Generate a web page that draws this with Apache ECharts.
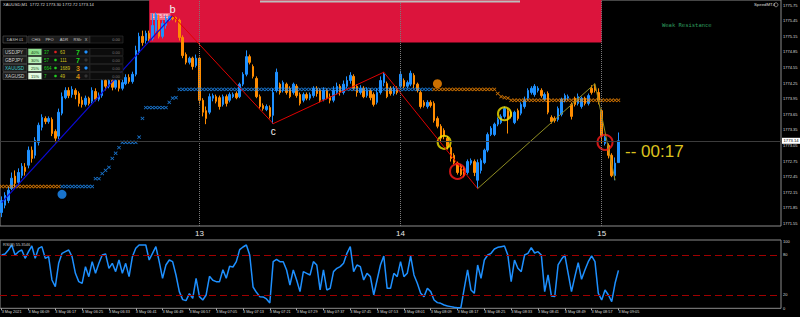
<!DOCTYPE html>
<html>
<head>
<meta charset="utf-8">
<script src="https://cdn.jsdelivr.net/npm/echarts@6/dist/echarts.min.js"></script>
<style>
  html, body { margin: 0; background: #000; }
  #chart { width: 800px; height: 317px; }
</style>
</head>
<body>
<div id="chart"></div>
<script>
// time slots (M1), 06:01 onwards; the chart window is wider than the data
const times = [];
for (let i = 0; i < 233; i++) {
  const m = 6 * 60 + 1 + i;
  times.push(String(Math.floor(m / 60)).padStart(2, "0") + ":" + String(m % 60).padStart(2, "0"));
}
const hourLabels = { "07:00": "13", "08:00": "14", "09:00": "15" };

// [open, close, low, high]
const candles = [
  [1771.76,1771.99,1771.67,1772.07],[1771.90,1772.09,1771.84,1772.15],[1771.99,1772.19,1771.94,1772.26],[1772.22,1772.42,1772.19,1772.53],[1772.46,1772.32,1772.24,1772.57],
  [1772.34,1772.53,1772.28,1772.61],[1772.47,1772.65,1772.42,1772.71],[1772.63,1772.55,1772.47,1772.71],[1772.67,1772.96,1772.61,1773.03],[1772.96,1772.80,1772.72,1773.03],
  [1772.86,1773.15,1772.80,1773.21],[1773.11,1773.44,1773.05,1773.49],[1773.40,1773.59,1773.34,1773.65],[1773.57,1773.51,1773.46,1773.61],[1773.51,1773.57,1773.47,1773.61],
  [1773.55,1773.28,1773.23,1773.59],[1773.32,1773.19,1773.11,1773.36],[1773.23,1773.69,1773.17,1773.76],[1773.67,1773.99,1773.63,1774.07],[1773.97,1774.11,1773.94,1774.17],
  [1774.11,1774.01,1773.96,1774.17],[1774.03,1774.13,1773.97,1774.19],[1774.11,1774.03,1773.94,1774.15],[1774.05,1773.86,1773.80,1774.09],[1773.92,1773.84,1773.78,1773.99],
  [1773.84,1773.96,1773.80,1774.01],[1773.96,1773.86,1773.82,1773.99],[1773.90,1774.11,1773.86,1774.17],[1774.09,1773.94,1773.90,1774.15],[1773.94,1774.01,1773.90,1774.07],
  [1774.01,1774.30,1773.97,1774.36],[1774.30,1774.19,1774.11,1774.34],[1774.19,1774.30,1774.15,1774.34],[1774.30,1774.17,1774.11,1774.36],[1774.17,1774.30,1774.13,1774.36],
  [1774.30,1774.15,1774.09,1774.32],[1774.15,1774.26,1774.11,1774.32],[1774.24,1774.36,1774.21,1774.42],[1774.36,1774.28,1774.24,1774.42],[1774.28,1774.42,1774.24,1774.47],
  [1774.42,1774.88,1774.38,1774.97],[1774.84,1775.15,1774.80,1775.22],[1775.15,1775.03,1774.97,1775.26],[1775.07,1775.21,1775.01,1775.26],[1775.21,1775.11,1775.05,1775.26],
  [1775.11,1775.36,1775.07,1775.59],[1775.26,1775.57,1775.22,1775.61],[1775.46,1775.15,1775.11,1775.57],[1775.15,1775.40,1775.11,1775.46],[1775.36,1775.49,1775.30,1775.55],
  [1775.47,1775.53,1775.44,1775.55],[1775.53,1775.49,1775.46,1775.55],[1775.51,1775.46,1775.42,1775.53],[1775.46,1775.13,1775.07,1775.49],[1775.13,1774.78,1774.73,1775.17],
  [1774.80,1774.65,1774.61,1774.84],[1774.65,1774.73,1774.61,1774.76],[1774.73,1774.57,1774.51,1774.76],[1774.59,1774.73,1774.55,1774.80],[1774.73,1773.92,1773.84,1774.76],
  [1773.92,1773.69,1773.61,1773.96],[1773.72,1773.57,1773.46,1773.80],[1773.69,1773.99,1773.65,1774.05],[1773.96,1774.01,1773.90,1774.05],[1773.99,1773.90,1773.86,1774.03],
  [1773.97,1773.80,1773.74,1774.01],[1773.84,1773.99,1773.80,1774.03],[1773.99,1773.86,1773.80,1774.03],[1773.92,1774.03,1773.88,1774.07],[1773.99,1774.03,1773.96,1774.07],
  [1774.05,1773.97,1773.94,1774.09],[1773.99,1774.23,1773.96,1774.26],[1774.23,1774.42,1774.19,1774.46],[1774.42,1774.76,1774.38,1774.88],[1774.76,1774.65,1774.61,1774.80],
  [1774.57,1774.38,1774.34,1774.61],[1774.34,1773.99,1773.96,1774.38],[1773.99,1773.80,1773.76,1774.03],[1773.82,1773.76,1773.72,1773.86],[1773.74,1773.80,1773.71,1773.84],
  [1773.78,1773.61,1773.57,1773.82],[1773.63,1774.07,1773.47,1774.15],[1774.11,1774.46,1774.07,1774.53],[1774.23,1774.07,1774.03,1774.26],[1774.11,1774.26,1774.07,1774.30],
  [1774.23,1774.07,1774.03,1774.26],[1774.15,1773.99,1773.96,1774.19],[1774.07,1774.23,1774.03,1774.26],[1774.19,1774.01,1773.97,1774.23],[1774.03,1773.86,1773.82,1774.07],
  [1773.92,1774.03,1773.88,1774.07],[1774.03,1773.96,1773.92,1774.07],[1773.96,1774.03,1773.92,1774.07],[1774.01,1774.15,1773.97,1774.19],[1774.15,1774.05,1773.99,1774.19],
  [1774.11,1773.92,1773.88,1774.15],[1773.94,1774.11,1773.90,1774.17],[1774.11,1773.97,1773.94,1774.15],[1773.99,1773.92,1773.86,1774.05],[1773.92,1774.11,1773.88,1774.19],
  [1774.07,1774.19,1774.03,1774.26],[1774.19,1774.07,1774.01,1774.23],[1774.07,1774.23,1774.03,1774.30],[1774.19,1774.30,1774.15,1774.38],[1774.30,1774.40,1774.24,1774.46],
  [1774.38,1774.15,1774.11,1774.42],[1774.19,1774.07,1773.99,1774.23],[1774.07,1774.15,1774.03,1774.21],[1774.15,1773.99,1773.96,1774.19],[1774.01,1774.11,1773.97,1774.17],
  [1774.11,1773.97,1773.92,1774.15],[1774.03,1773.84,1773.80,1774.07],[1773.88,1774.07,1773.84,1774.15],[1774.07,1774.30,1774.03,1774.38],[1774.26,1774.42,1774.19,1774.46],
  [1774.24,1773.99,1773.96,1774.28],[1774.15,1774.05,1774.01,1774.19],[1774.05,1774.15,1774.01,1774.19],[1774.15,1774.07,1774.03,1774.19],[1774.19,1774.42,1774.15,1774.49],
  [1774.30,1774.19,1774.15,1774.34],[1774.19,1774.26,1774.15,1774.30],[1774.23,1774.44,1774.19,1774.49],[1774.40,1774.23,1774.15,1774.44],[1774.23,1774.11,1774.07,1774.26],
  [1774.07,1773.80,1773.76,1774.11],[1773.88,1773.82,1773.78,1773.92],[1773.80,1773.88,1773.76,1773.92],[1773.88,1773.82,1773.78,1773.92],[1773.86,1773.53,1773.49,1773.90],
  [1773.57,1773.42,1773.38,1773.61],[1773.42,1773.19,1773.13,1773.46],[1773.34,1773.23,1773.17,1773.38],[1773.19,1773.03,1772.97,1773.23],[1773.01,1772.80,1772.74,1773.05],
  [1772.86,1772.72,1772.69,1772.90],[1772.71,1772.53,1772.49,1772.74],[1772.65,1772.49,1772.46,1772.69],[1772.61,1772.47,1772.44,1772.65],[1772.53,1772.74,1772.49,1772.78],
  [1772.71,1772.76,1772.67,1772.80],[1772.74,1772.53,1772.46,1772.78],[1772.38,1772.72,1772.22,1772.78],[1772.57,1772.76,1772.51,1772.80],[1772.72,1772.96,1772.69,1772.99],
  [1772.96,1773.26,1772.92,1773.30],[1773.26,1773.38,1773.23,1773.42],[1773.26,1773.46,1773.23,1773.49],[1773.46,1773.55,1773.42,1773.59],[1773.49,1773.61,1773.46,1773.65],
  [1773.61,1773.76,1773.57,1773.80],[1773.72,1773.57,1773.28,1773.76],[1773.69,1773.61,1773.57,1773.72],[1773.49,1773.69,1773.46,1773.72],[1773.72,1773.57,1773.53,1773.76],
  [1773.67,1773.84,1773.63,1773.88],[1773.80,1773.92,1773.76,1773.99],[1773.96,1774.11,1773.92,1774.15],[1774.07,1774.15,1774.03,1774.19],[1774.03,1774.19,1773.99,1774.23],
  [1774.11,1774.15,1774.07,1774.19],[1774.11,1774.01,1773.97,1774.15],[1773.94,1774.03,1773.90,1774.07],[1774.05,1773.69,1773.65,1774.09],[1773.59,1773.51,1773.47,1773.63],
  [1773.57,1773.53,1773.49,1773.61],[1773.55,1773.76,1773.51,1773.80],[1773.65,1773.94,1773.61,1773.97],[1773.92,1774.01,1773.88,1774.05],[1773.96,1773.99,1773.92,1774.03],
  [1773.84,1773.61,1773.55,1773.88],[1773.96,1773.84,1773.80,1773.99],[1773.86,1773.99,1773.82,1774.05],[1773.80,1773.96,1773.76,1773.99],[1773.96,1773.86,1773.82,1773.99],
  [1773.86,1774.01,1773.82,1774.05],[1774.15,1774.07,1774.03,1774.21],[1774.19,1774.11,1774.07,1774.24],[1774.07,1773.92,1773.84,1774.15],[1773.72,1773.23,1773.09,1773.76],
  [1773.09,1773.21,1773.05,1773.24],[1773.05,1772.86,1772.80,1773.09],[1772.86,1772.47,1772.44,1772.90],[1772.47,1772.71,1772.38,1772.82],[1772.72,1773.14,1772.72,1773.30]
];

const rsi = [
  80, 81.5, 87.5, 95, 80, 85, 87.5, 75, 85, 93.5,
  75, 90, 92.5, 75, 77.5, 42.5, 32.5, 67.5, 82.5, 85,
  87.5, 77.5, 52.5, 40, 37.5, 62.5, 47.5, 70, 52.5, 67.5,
  80, 81.5, 60, 67.5, 55, 72.5, 52.5, 67.5, 47.5, 77.5,
  90, 95, 95, 95, 72.5, 82.5, 92.5, 70, 45, 65,
  72.5, 70, 50, 25, 13, 11.5, 22, 15, 45, 17.5,
  12.5, 20, 48, 42, 40, 40, 58, 45, 63, 62,
  70, 88, 92, 95, 80, 32, 24, 17.5, 17, 14,
  8, 70, 73.5, 70, 70, 57.5, 35, 57.5, 42.5, 25,
  55, 52.5, 50, 70, 65, 27.5, 57.5, 27.5, 30, 55,
  60, 62.5, 67.5, 82.5, 92.5, 55, 65, 62.5, 42.5, 52.5,
  47.5, 20, 42.5, 65, 78.5, 30, 30, 52.5, 47.5, 70,
  47.5, 52.5, 78.5, 50, 37.5, 22.5, 17.5, 30, 25, 12.5,
  8.5, 7.5, 5, 3.5, 2.5, 1.5, 1, 1, 30, 57.5,
  27.5, 22.5, 65, 45, 72.5, 80, 82.5, 89, 91.5, 92.5,
  93.5, 80, 40, 72.5, 60, 55, 80, 82.5, 91, 83,
  85, 80, 25, 50, 18.5, 17.5, 65, 73.5, 80, 52.5,
  25, 47.5, 68.5, 43.5, 57.5, 70, 78.5, 70, 22.5, 12.5,
  27.5, 20, 10, 37.5, 57
];

// trailing stop level per bar, and its side (B = buy / blue, S = sell / orange)
const stopLevel = [
  1772.26,1772.26,1772.26,1772.26,1772.26,1772.26,1772.26,1772.26,1772.26,1772.26,
  1772.26,1772.26,1772.26,1772.26,1772.26,1772.26,1772.26,1772.26,1772.26,1772.26,
  1772.26,1772.26,1772.26,1772.26,1772.26,1772.26,1772.26,1772.26,1772.41,1772.41,
  1772.51,1772.57,1772.63,1772.80,1772.90,1773.01,1773.11,1773.11,1773.11,1773.11,
  1773.11,1773.21,1773.57,1773.78,1773.78,1773.78,1773.78,1773.78,1773.78,1773.78,
  1773.88,1773.96,1773.97,1774.13,1774.13,1774.13,1774.13,1774.13,1774.13,1774.13,
  1774.13,1774.13,1774.13,1774.13,1774.13,1774.13,1774.13,1774.13,1774.13,1774.13,
  1774.13,1774.13,1774.13,1774.13,1774.13,1774.13,1774.13,1774.13,1774.13,1774.13,
  1774.13,1774.13,1774.13,1774.13,1774.13,1774.13,1774.13,1774.13,1774.13,1774.13,
  1774.13,1774.13,1774.13,1774.13,1774.13,1774.13,1774.13,1774.13,1774.13,1774.13,
  1774.13,1774.13,1774.13,1774.13,1774.13,1774.13,1774.13,1774.13,1774.13,1774.13,
  1774.13,1774.13,1774.13,1774.13,1774.13,1774.13,1774.13,1774.13,1774.13,1774.13,
  1774.13,1774.13,1774.13,1774.13,1774.13,1774.13,1774.13,1774.13,1774.13,1774.13,
  1774.13,1774.13,1774.13,1774.13,1774.13,1774.13,1774.13,1774.13,1774.13,1774.13,
  1774.13,1774.13,1774.13,1774.13,1774.13,1774.13,1774.13,1774.13,1774.05,1773.99,
  1773.97,1773.96,1773.92,1773.92,1773.92,1773.92,1773.92,1773.92,1773.92,1773.92,
  1773.92,1773.92,1773.92,1773.92,1773.92,1773.92,1773.92,1773.92,1773.92,1773.92,
  1773.92,1773.92,1773.92,1773.92,1773.92,1773.92,1773.92,1773.92,1773.92,1773.92,
  1773.92,1773.92,1773.92,1773.92,1773.92
];
const stopSide =
  "SSSSSSSSSS" + "SSSSSSSSBB" + "BBBBBBBBBB" + "BBBBBBBBBB" + "BBBBBBBBBB" +
  "BBBBBBBBBB" + "BBBBBBBBBB" + "BBBBBBBBBB" + "BBBBBBBBBB" + "BBBBBBBBBB" +
  "BBBBBBBBBB" + "BBBBBBBBBB" + "BBBBBBBBBS" + "SSSSSSSSSS" + "SSSSSSSSSS" +
  "SSSSSSSSSS" + "SSSSSSSSSS" + "SSSSSSSSSS" + "SSSSS";

const trendLine = [["06:01", 1771.95], ["06:52", 1775.55]];
const zigzagRed = [["06:52", 1775.55], ["07:22", 1773.47], ["07:55", 1774.46], ["08:23", 1772.22]];
const zigzagOlive = [["08:23", 1772.22], ["08:58", 1774.24], ["09:04", 1772.38]];
const signalBuy = [["06:19", 1772.11]];
const signalSell = [["08:11", 1774.24]];
const yellowRings = [["08:13", 1773.11], ["08:31", 1773.66]];
const redRings = [["08:17", 1772.55], ["09:01", 1773.11]];
const lastPrice = 1773.14;
const zoneLow = 1775.03;

const dashPairs = ["USDJPY", "GBPJPY", "XAUUSD", "XAGUSD"];
const dashStrength = ["40%", "30%", "25%", "15%"];
const dashChange = ["37", "57", "664", "7"];
const dashAdr = ["63", "111", "1689", "49"];
const dashScore = ["7", "7", "3", "4"];
const dashHeaders = ["CHG", "PFO", "ADR", "RSIr", "X"];

const priceMin = 1771.50, priceMax = 1775.85, priceBase = 1771.55;
const stopBuy = stopLevel.map((v, i) => (stopSide[i] === "B" ? v : "-"));
const stopSell = stopLevel.map((v, i) => (stopSide[i] === "S" ? v : "-"));
const crossPath = "path://M0,1.5L1.5,0L5,3.5L8.5,0L10,1.5L6.5,5L10,8.5L8.5,10L5,6.5L1.5,10L0,8.5L3.5,5Z";
const FONT = '"Liberation Sans", Arial, sans-serif';

const txt = (x, y, text, size, fill, align, weight, family) => ({
  type: "text", z: 100, silent: true,
  style: {
    x, y, text, fill,
    font: (weight || "normal") + " " + size + "px " + (family || FONT),
    textAlign: align || "left", align: align || "left",
    textVerticalAlign: "middle", verticalAlign: "middle",
  },
});
const box = (x, y, w, h, fill, stroke) => ({
  type: "rect", z: 99, silent: true,
  shape: { x, y, width: w, height: h },
  style: { fill, stroke: stroke || null, lineWidth: 0.6 },
});
const dot = (cx, cy, r, fill) => ({ type: "circle", z: 100, silent: true, shape: { cx, cy, r }, style: { fill } });

const graphics = [];
graphics.push(box(260, 0.5, 260, 2, "#bdbdbd"));
graphics.push(txt(3, 4.5, "XAUUSD,M1  1772.72 1773.30 1772.72 1773.14", 4.2, "#dddddd"));
graphics.push(txt(754, 4.8, "SpeedMT4", 4.3, "#dddddd"));
graphics.push({ type: "circle", z: 100, silent: true, shape: { cx: 776, cy: 4.8, r: 2 }, style: { fill: "none", stroke: "#aaaaaa", lineWidth: 0.7 } });
graphics.push(txt(662, 24.5, "Weak Resistance", 5.5, "#2e9e5e", "left", "normal", '"DejaVu Sans Mono", monospace'));
graphics.push(txt(625, 151.5, "-- 00:17", 17, "#dcc21e"));
graphics.push(txt(3, 244.5, "RSI(8) 55.3546", 4, "#cccccc"));

// dashboard
graphics.push(box(3, 36, 24, 7, "#0b0b0b", "#5a5a5a"));
graphics.push(txt(15, 39.5, "DASH 01", 4, "#bdbdbd", "center"));
graphics.push(box(28, 36, 62, 7, "#1e1e1e", "#3a3a3a"));
[36, 49.5, 64, 77.5, 86].forEach((x, k) => graphics.push(txt(x, 39.5, dashHeaders[k], 4, "#cccccc", "center")));
graphics.push(box(90, 36, 33, 7, "#0c0c0c", "#333333"));
graphics.push(txt(120, 39.5, "0.00", 4, "#8a8a8a", "right"));
const pctBg = ["#8fe08f", "#b8efb8", "#cdf5cd", "#e3fbe3"];
const chgDot = ["#e02020", "#20d020", "#20d020", "#20d020"];
const scoreColor = ["#20d020", "#20d020", "#d08a10", "#d08a10"];
const sideDot = ["#1e90ff", "#333333", "#1e90ff", "#333333"];
dashPairs.forEach((p, r) => {
  const top = 48.5 + r * 8, cy = top + 3.5;
  graphics.push(box(3, top, 24, 7, "#1b1b1b", "#555555"));
  graphics.push(txt(5, cy, p, 4.6, r === 2 ? "#3fc9c9" : "#cfcfcf"));
  graphics.push(box(28, top, 14, 7, pctBg[r], "#2a2a2a"));
  graphics.push(txt(35, cy, dashStrength[r], 4, "#0a3a0a", "center"));
  graphics.push(box(42, top, 48, 7, "#121212", "#2e2e2e"));
  graphics.push(txt(44, cy, dashChange[r], 4.5, "#1fd01f"));
  graphics.push(dot(55.5, cy, 1.3, chgDot[r]));
  graphics.push(txt(60, cy, dashAdr[r], 4.5, "#cfc21e"));
  graphics.push(txt(78, cy, dashScore[r], 7, scoreColor[r], "center", "bold"));
  graphics.push(dot(86, cy, 1.6, sideDot[r]));
  graphics.push(box(90, top, 33, 7, "#0c0c0c", "#2e2e2e"));
  graphics.push(txt(120, cy, "0.00", 4, "#777777", "right"));
});

const chart = echarts.init(document.getElementById("chart"), null, { renderer: "svg" });
chart.setOption({
  animation: false,
  backgroundColor: "#000",
  textStyle: { fontFamily: FONT },
  grid: [
    { left: 0, top: 0, width: 781, height: 226, show: true, borderColor: "#8c8c8c", borderWidth: 1, backgroundColor: "#000", outerBoundsMode: "none" },
    { left: 0, top: 240, width: 781, height: 68.3, show: true, borderColor: "#8c8c8c", borderWidth: 1, backgroundColor: "#000", outerBoundsMode: "none" },
  ],
  xAxis: [
    {
      gridIndex: 0, type: "category", data: times, boundaryGap: true,
      axisLine: { show: false }, axisTick: { show: false }, splitLine: { show: false },
      axisLabel: {
        interval: (i, v) => v in hourLabels,
        formatter: (v) => hourLabels[v] || "",
        color: "#e8e8e8", fontSize: 8, margin: 3,
      },
    },
    {
      gridIndex: 1, type: "category", data: times, boundaryGap: true,
      axisLine: { show: false }, splitLine: { show: false },
      axisTick: { show: true, interval: (i) => i % 8 === 0 && i < candles.length, alignWithLabel: true, length: 2, lineStyle: { color: "#aaaaaa" } },
      axisLabel: {
        interval: (i) => i % 8 === 0 && i < candles.length,
        formatter: (v, i) => (i === 0 ? "3 May 2021" : "3 May " + v),
        align: "left", color: "#dddddd", fontSize: 3.8, margin: 2,
      },
    },
  ],
  yAxis: [
    {
      gridIndex: 0, type: "value", position: "right", min: priceMin, max: priceMax, interval: 0.05,
      axisLine: { show: false }, axisTick: { show: false }, splitLine: { show: false },
      axisLabel: {
        formatter: (v) => {
          const k = Math.round((v - priceBase) / 0.05);
          return k >= 0 && k % 6 === 0 && v <= 1775.76 ? v.toFixed(2) : "";
        },
        color: "#dddddd", fontSize: 4, margin: 2,
      },
    },
    {
      gridIndex: 1, type: "value", position: "right", min: 0, max: 102.5, interval: 20,
      axisLine: { show: false }, axisTick: { show: false }, splitLine: { show: false },
      axisLabel: {
        formatter: (v) => ([0, 20, 80, 100].includes(Math.round(v)) && Math.abs(v - Math.round(v)) < 1e-6 ? String(Math.round(v)) : ""),
        color: "#dddddd", fontSize: 4, margin: 2,
      },
    },
  ],
  graphic: { elements: graphics },
  series: [
    {
      name: "XAUUSD", type: "candlestick", xAxisIndex: 0, yAxisIndex: 0, data: candles,
      barWidth: 2,
      itemStyle: { color: "#1e90ff", color0: "#ff8c00", borderColor: "#1e90ff", borderColor0: "#ff8c00", borderWidth: 1 },
      markArea: {
        silent: true,
        itemStyle: { color: "#dc143c" },
        label: {
          show: true, position: "insideTopLeft", formatter: "1775.55", fontSize: 4.5,
          color: "#ffe4ea", backgroundColor: "rgba(255,170,190,0.55)", padding: [1, 2], offset: [-4, 8],
        },
        data: [[{ xAxis: "06:45", yAxis: zoneLow }, { xAxis: "09:00", yAxis: priceMax }]],
      },
      markLine: {
        silent: true, symbol: "none", animation: false,
        data: [
          { xAxis: "07:00", lineStyle: { color: "#7a7a7a", type: "dotted", width: 1 }, label: { show: false } },
          { xAxis: "08:00", lineStyle: { color: "#7a7a7a", type: "dotted", width: 1 }, label: { show: false } },
          { xAxis: "09:00", lineStyle: { color: "#7a7a7a", type: "dotted", width: 1 }, label: { show: false } },
          {
            yAxis: lastPrice, lineStyle: { color: "#3c3c3c", type: "solid", width: 1 },
            label: { show: true, position: "end", distance: 1, formatter: lastPrice.toFixed(2), fontSize: 4.2, color: "#000", backgroundColor: "#ffffff", padding: [1, 1.5] },
          },
        ],
      },
    },
    {
      name: "trend", type: "line", xAxisIndex: 0, yAxisIndex: 0, data: trendLine,
      symbol: "none", lineStyle: { color: "#0b0bd8", width: 1.2 }, silent: true,
    },
    {
      name: "zigzag", type: "line", xAxisIndex: 0, yAxisIndex: 0, silent: true,
      symbol: "circle", symbolSize: 1, showSymbol: true, itemStyle: { color: "#e00000" },
      lineStyle: { color: "#e00000", width: 1 },
      data: zigzagRed.map((p, k) => {
        if (k === 0) return { value: p, label: { show: true, formatter: "b", position: "top", distance: 1, color: "#f0f0f0", fontSize: 11 } };
        if (k === 1) return { value: p, label: { show: true, formatter: "c", position: "bottom", distance: 2, color: "#f0f0f0", fontSize: 10 } };
        return p;
      }),
    },
    {
      name: "zigzag2", type: "line", xAxisIndex: 0, yAxisIndex: 0, data: zigzagOlive,
      symbol: "none", lineStyle: { color: "#8f8d22", width: 1 }, silent: true,
    },
    {
      name: "stopBuy", type: "scatter", xAxisIndex: 0, yAxisIndex: 0, data: stopBuy,
      symbol: crossPath, symbolSize: [4, 3.8], itemStyle: { color: "#1e90ff" }, silent: true,
    },
    {
      name: "stopSell", type: "scatter", xAxisIndex: 0, yAxisIndex: 0, data: stopSell,
      symbol: crossPath, symbolSize: [4, 3.8], itemStyle: { color: "#ff8c00" }, silent: true,
    },
    {
      name: "signalBuy", type: "scatter", xAxisIndex: 0, yAxisIndex: 0, data: signalBuy,
      symbol: "circle", symbolSize: 9, itemStyle: { color: "#1e90ff" }, silent: true,
    },
    {
      name: "signalSell", type: "scatter", xAxisIndex: 0, yAxisIndex: 0, data: signalSell,
      symbol: "circle", symbolSize: 9, itemStyle: { color: "#ff8c00" }, silent: true,
    },
    {
      name: "yellowRings", type: "scatter", xAxisIndex: 0, yAxisIndex: 0, data: yellowRings,
      symbol: "circle", symbolSize: 13, itemStyle: { color: "rgba(0,0,0,0)", borderColor: "#f2e200", borderWidth: 2 }, silent: true,
    },
    {
      name: "redRings", type: "scatter", xAxisIndex: 0, yAxisIndex: 0, data: redRings,
      symbol: "circle", symbolSize: 15, itemStyle: { color: "rgba(0,0,0,0)", borderColor: "#ff1a1a", borderWidth: 2 }, silent: true,
    },
    {
      name: "RSI", type: "line", xAxisIndex: 1, yAxisIndex: 1, data: rsi,
      symbol: "none", lineStyle: { color: "#1e90ff", width: 1.5 }, silent: true,
      markLine: {
        silent: true, symbol: "none", label: { show: false },
        lineStyle: { color: "#a00000", type: [7, 4], width: 1.2 },
        data: [{ yAxis: 80 }, { yAxis: 20 }],
      },
    },
  ],
});
</script>
</body>
</html>
